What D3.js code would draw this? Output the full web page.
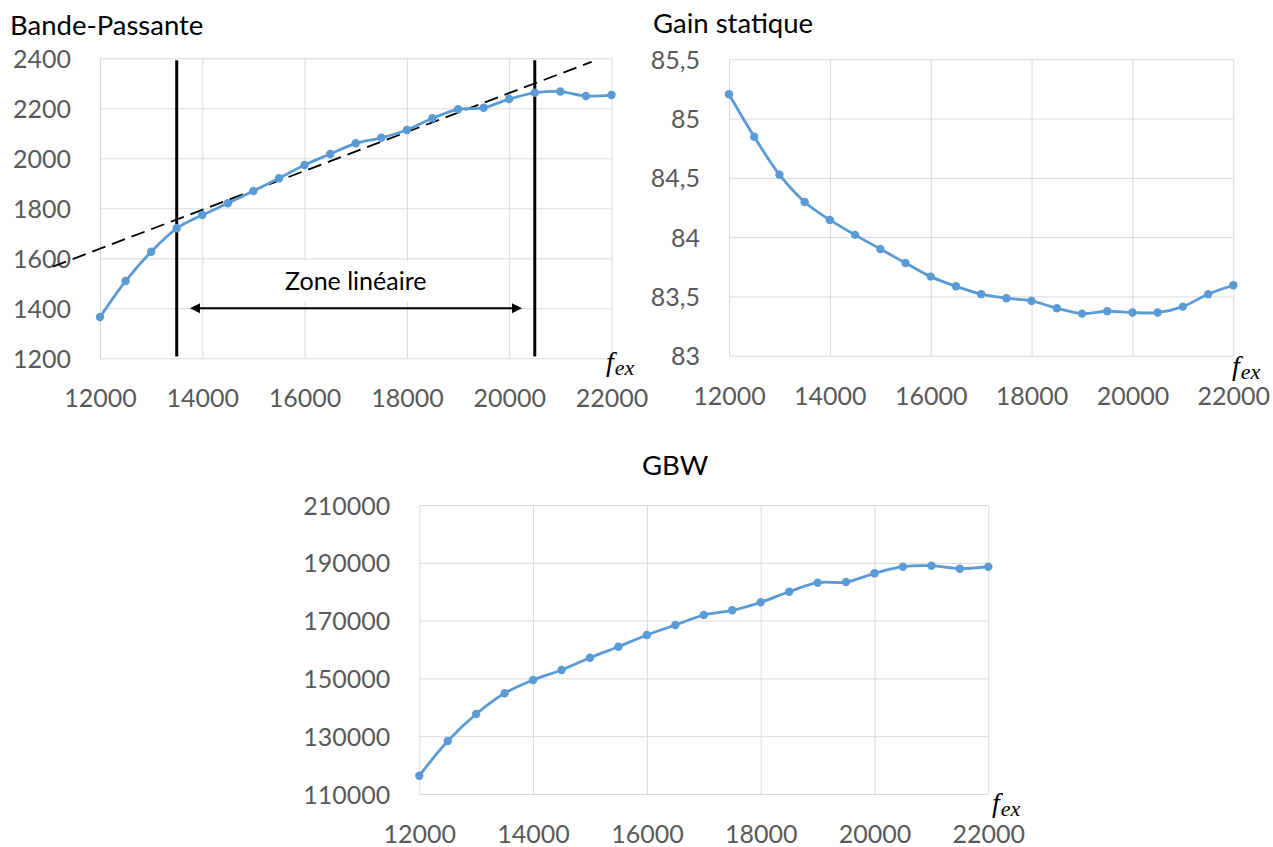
<!DOCTYPE html>
<html><head><meta charset="utf-8">
<script src="https://cdn.jsdelivr.net/npm/d3@7"></script>
<style>body{margin:0;background:#fff} svg{display:block}</style>
</head><body>
<svg id="c" width="1273" height="847"></svg>
<script>
// ---------- DATA ----------
const fex = [12000,12500,13000,13500,14000,14500,15000,15500,16000,16500,17000,17500,18000,18500,19000,19500,20000,20500,21000,21500,22000];
const bandePassante = [1365,1509,1626,1720,1773,1820,1869,1920,1973,2017,2060,2082,2113,2160,2196,2202,2237,2262,2267,2249,2253];
const gainStatique = [85.205,84.847,84.527,84.297,84.145,84.019,83.900,83.782,83.667,83.586,83.519,83.485,83.462,83.400,83.355,83.375,83.364,83.364,83.414,83.519,83.594];
const gbw = [116300,128340,137680,144840,149450,152900,157160,160970,165020,168480,171940,173560,176330,180000,183110,183340,186370,188650,189000,187960,188650];
const xTicks = [12000,14000,16000,18000,20000,22000];
const bpTicks = [1200,1400,1600,1800,2000,2200,2400];
const gainTicks = [83,83.5,84,84.5,85,85.5];
const gbwTicks = [110000,130000,150000,170000,190000,210000];
const titles = ["Bande-Passante","Gain statique","GBW"];
// annotations of the first chart
const zoneBounds = [13500, 20500];
const trendX = [11081, 21611];
const trendY = [1567, 2386];
const zoneArrowX = [13760, 20250];
const zoneArrowY = 1400;
const zoneLabel = "Zone linéaire";
const zoneLabelPos = [17000, 1472];

// ---------- STYLE / LAYOUT ----------
const FONT = "Lato, Carlito, 'Open Sans', sans-serif";
const BLUE = "#5B9BD5";
const GRID = "#D9D9D9";
const TICKC = "#595959";
const svg = d3.select("#c");
const commaLocale = d3.formatLocale({decimal: ",", thousands: "", grouping: [3], currency: ["", ""]});

function drawChart(cfg) {
  const g = svg.append("g");
  const x = d3.scaleLinear().domain([xTicks[0], xTicks[xTicks.length-1]]).range([cfg.x0, cfg.x1]);
  const y = d3.scaleLinear().domain([cfg.yTicks[0], cfg.yTicks[cfg.yTicks.length-1]]).range([cfg.y1, cfg.y0]);

  const ya = g.append("g").attr("transform", `translate(${cfg.x0},0)`)
    .call(d3.axisLeft(y).tickValues(cfg.yTicks).tickSize(-(cfg.x1 - cfg.x0)).tickPadding(29).tickFormat(cfg.fmt));
  const xa = g.append("g").attr("transform", `translate(0,${cfg.y1})`)
    .call(d3.axisBottom(x).tickValues(xTicks).tickSize(-(cfg.y1 - cfg.y0)).tickPadding(0).tickFormat(d3.format("d")));
  [ya, xa].forEach(a => {
    a.select(".domain").remove();
    a.selectAll(".tick line").attr("stroke", GRID).attr("stroke-width", 1);
    a.selectAll(".tick text").attr("fill", TICKC).attr("font-family", FONT).attr("font-size", 25);
  });
  ya.selectAll(".tick text").attr("dy", "0.36em");
  xa.selectAll(".tick text").attr("y", cfg.xLabelDy).attr("dy", 0);

  // title
  g.append("text").attr("x", cfg.titleX).attr("y", cfg.titleY).attr("font-family", FONT)
    .attr("font-size", cfg.titleSize).attr("fill", "#000").text(cfg.title);

  // f_ex axis label
  const fl = g.append("text").attr("x", cfg.fx).attr("y", cfg.fy)
    .attr("font-family", "'Liberation Serif', 'DejaVu Serif', serif").attr("font-style", "italic").attr("fill", "#000");
  fl.append("tspan").attr("font-size", 28).text("f");
  fl.append("tspan").attr("font-size", 22).attr("dy", 4).attr("dx", 1).text("ex");

  if (cfg.annot) cfg.annot(g, x, y);

  const pts = fex.map((f, i) => [f, cfg.values[i]]);
  const line = d3.line().x(d => x(d[0])).y(d => y(d[1])).curve(d3.curveCatmullRom.alpha(0.5));
  g.append("path").datum(pts).attr("d", line).attr("fill", "none").attr("stroke", BLUE)
    .attr("stroke-width", 2.8).attr("stroke-linejoin", "round");
  g.selectAll("circle.m").data(pts).join("circle").attr("class", "m")
    .attr("cx", d => x(d[0])).attr("cy", d => y(d[1])).attr("r", 4.2).attr("fill", BLUE);
}

function annotBP(g, x, y) {
  // text box with white background
  const box = g.append("rect").attr("fill", "#fff");
  const t = g.append("text").attr("x", x(zoneLabelPos[0])).attr("y", y(zoneLabelPos[1]))
    .attr("text-anchor", "middle").attr("font-family", FONT).attr("font-size", 25).attr("fill", "#000").text(zoneLabel);
  const bb = t.node().getBBox();
  box.attr("x", bb.x - 13).attr("y", bb.y - 4).attr("width", bb.width + 26).attr("height", bb.height + 10);
  // trend dashed line
  g.append("line").attr("x1", x(trendX[0])).attr("y1", y(trendY[0])).attr("x2", x(trendX[1])).attr("y2", y(trendY[1]))
    .attr("stroke", "#000").attr("stroke-width", 1.8).attr("stroke-dasharray", "14,7");
  // vertical bounds
  g.selectAll("line.vb").data(zoneBounds).join("line").attr("class", "vb")
    .attr("x1", d => x(d)).attr("x2", d => x(d)).attr("y1", y(2392)).attr("y2", y(1207))
    .attr("stroke", "#000").attr("stroke-width", 3);
  // double arrow
  const ay = y(zoneArrowY), ax0 = x(zoneArrowX[0]), ax1 = x(zoneArrowX[1]);
  g.append("line").attr("x1", ax0 + 8).attr("x2", ax1 - 8).attr("y1", ay).attr("y2", ay).attr("stroke", "#000").attr("stroke-width", 2);
  g.append("path").attr("d", `M${ax0},${ay}L${ax0+10},${ay-5}L${ax0+10},${ay+5}Z`).attr("fill", "#000");
  g.append("path").attr("d", `M${ax1},${ay}L${ax1-10},${ay-5}L${ax1-10},${ay+5}Z`).attr("fill", "#000");
}

drawChart({title: titles[0], values: bandePassante, yTicks: bpTicks, fmt: d3.format("d"),
  x0: 100, x1: 611.5, y0: 58.3, y1: 358.3, xLabelDy: 48.5,
  titleX: 10, titleY: 35, titleSize: 27.5, fx: 606, fy: 371, annot: annotBP});
drawChart({title: titles[1], values: gainStatique, yTicks: gainTicks, fmt: commaLocale.format(""),
  x0: 729, x1: 1233.3, y0: 59.3, y1: 355.7, xLabelDy: 49.5,
  titleX: 653, titleY: 32.5, titleSize: 27.5, fx: 1232, fy: 375});
drawChart({title: titles[2], values: gbw, yTicks: gbwTicks, fmt: d3.format("d"),
  x0: 419.3, x1: 988.3, y0: 505, y1: 794, xLabelDy: 48.5,
  titleX: 642, titleY: 475, titleSize: 27.5, fx: 992, fy: 812});
</script>
</body></html>
